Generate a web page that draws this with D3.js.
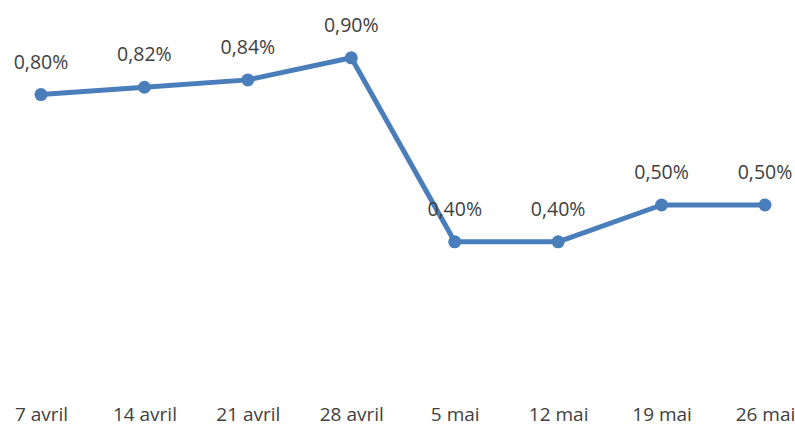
<!DOCTYPE html>
<html>
<head>
<meta charset="utf-8">
<script src="https://cdn.jsdelivr.net/npm/d3@7"></script>
<style>
  body { margin: 0; background: #fff; }
  text { font-family: "Open Sans", "Noto Sans", sans-serif; fill: #404040; }
</style>
</head>
<body>
<svg id="chart" width="795" height="427"></svg>
<script>
const dates = ["7 avril", "14 avril", "21 avril", "28 avril", "5 mai", "12 mai", "19 mai", "26 mai"]
const rates = [0.80, 0.82, 0.84, 0.90, 0.40, 0.40, 0.50, 0.50]

const svg = d3.select("#chart")
const color = "#4a7ebb"

const xScale = d3.scalePoint().domain(dates).range([41, 765])
const yScale = d3.scaleLinear().domain([0, 1]).range([389, 21])

// axe x : seulement les libellés
const xAxis = d3.axisBottom(xScale).tickSize(0).tickPadding(0)
const xAxisGroup = svg.append("g").attr("transform", "translate(0, 421)").call(xAxis)
xAxisGroup.select(".domain").remove()
xAxisGroup.selectAll("text")
  .attr("dy", "0")
  .style("font-size", "19px")
  .style("font-family", "'Open Sans', sans-serif")
  .attr("fill", "#404040")

const line = d3.line().x((d, i) => xScale(dates[i])).y(d => yScale(d))
svg.append("path").datum(rates)
  .attr("fill", "none").attr("stroke", color).attr("stroke-width", 5)
  .attr("stroke-linejoin", "round")
  .attr("d", line)

svg.selectAll("circle.pt").data(rates).enter().append("circle")
  .attr("class", "pt")
  .attr("cx", (d, i) => xScale(dates[i]))
  .attr("cy", d => yScale(d))
  .attr("r", 6.5)
  .attr("fill", color)

const fmt = d => d.toFixed(2).replace(".", ",") + "%"
svg.selectAll("text.lbl").data(rates).enter().append("text")
  .attr("class", "lbl")
  .attr("x", (d, i) => xScale(dates[i]))
  .attr("y", d => yScale(d) - 26)
  .attr("text-anchor", "middle")
  .style("font-size", "19.5px")
  .text(fmt)
</script>
</body>
</html>
